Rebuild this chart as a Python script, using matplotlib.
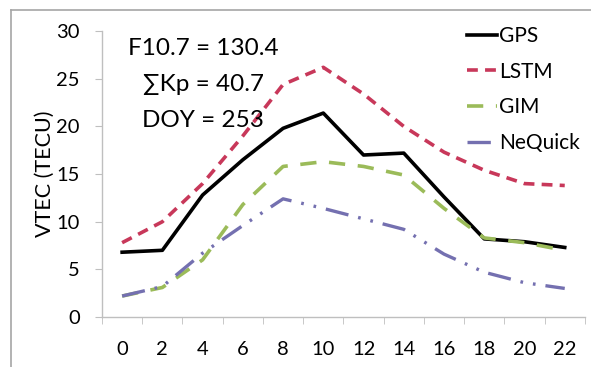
import matplotlib
matplotlib.use("Agg")
import matplotlib.pyplot as plt
from matplotlib.lines import Line2D

plt.rcParams['font.family'] = ['Lato', 'DejaVu Sans']

# local time (h)
hours = [0, 2, 4, 6, 8, 10, 12, 14, 16, 18, 20, 22]
gps = [6.8, 7.0, 12.8, 16.5, 19.8, 21.4, 17.0, 17.2, 12.6, 8.2, 7.9, 7.3]
lstm = [7.8, 10.0, 14.0, 19.0, 24.4, 26.2, 23.4, 20.0, 17.3, 15.4, 14.0, 13.8]
gim = [2.2, 3.1, 6.0, 11.8, 15.8, 16.3, 15.8, 14.9, 11.4, 8.3, 7.8, 7.0]
nequick = [2.2, 3.2, 6.7, 9.6, 12.4, 11.4, 10.3, 9.2, 6.6, 4.7, 3.6, 3.0]

info_lines = ["F10.7 = 130.4", "\u2211Kp = 40.7", "DOY = 253"]

fig = plt.figure(figsize=(5.91, 3.67), dpi=100)
ax = fig.add_axes([0.1726, 0.1362, 0.817, 0.779])

ax.plot(hours, gps, color='black', lw=2.6, label='GPS')
ax.plot(hours, lstm, color='#C8385A', lw=2.6, ls=(0, (3, 2)), label='LSTM')
ax.plot(hours, gim, color='#9BBB59', lw=2.6, ls=(0, (4.5, 3.5)), label='GIM')
ax.plot(hours, nequick, color='#7470B0', lw=2.4, ls=(0, (7, 3, 0.8, 3, 0.8, 3)), label='NeQuick')

ax.set_xlim(-1, 23)
ax.set_ylim(0, 30)
ax.set_xticks(hours)
ax.set_xticks([h - 1 for h in hours] + [23], minor=True)
ax.set_yticks([0, 5, 10, 15, 20, 25, 30])
ax.tick_params(axis='x', which='major', length=0, labelsize=14.5, pad=17)
ax.tick_params(axis='x', which='minor', length=5, color='#BFBFBF', direction='out')
ax.tick_params(axis='y', length=5, color='#BFBFBF', labelsize=14.5, pad=11)
for s in ['top', 'right']:
    ax.spines[s].set_visible(False)
for s in ['left', 'bottom']:
    ax.spines[s].set_color('#BFBFBF')
    ax.spines[s].set_linewidth(1.0)

ax.set_ylabel('VTEC (TECU)', fontsize=15.5, labelpad=1)

for i, t in enumerate(info_lines):
    ax.text(0.21, 0.94 - i * 0.126, t, transform=ax.transAxes, ha='center',
            va='center', fontsize=17.5)

leg = ax.legend(loc='upper left', bbox_to_anchor=(467 / 591, 1 - 26 / 367),
                bbox_transform=fig.transFigure, frameon=False,
                fontsize=15, handlelength=1.45, handletextpad=0.1,
                labelspacing=0.75, borderpad=0, borderaxespad=0)

# outer frame of the original figure (left and top edges)
fig.add_artist(Line2D([11 / 591, 11 / 591], [0, 1 - 10 / 367], color='#A6A6A6', lw=1.2))
fig.add_artist(Line2D([11 / 591, 1], [1 - 10 / 367, 1 - 10 / 367], color='#A6A6A6', lw=1.2))

fig.savefig('out.png', dpi=100)
